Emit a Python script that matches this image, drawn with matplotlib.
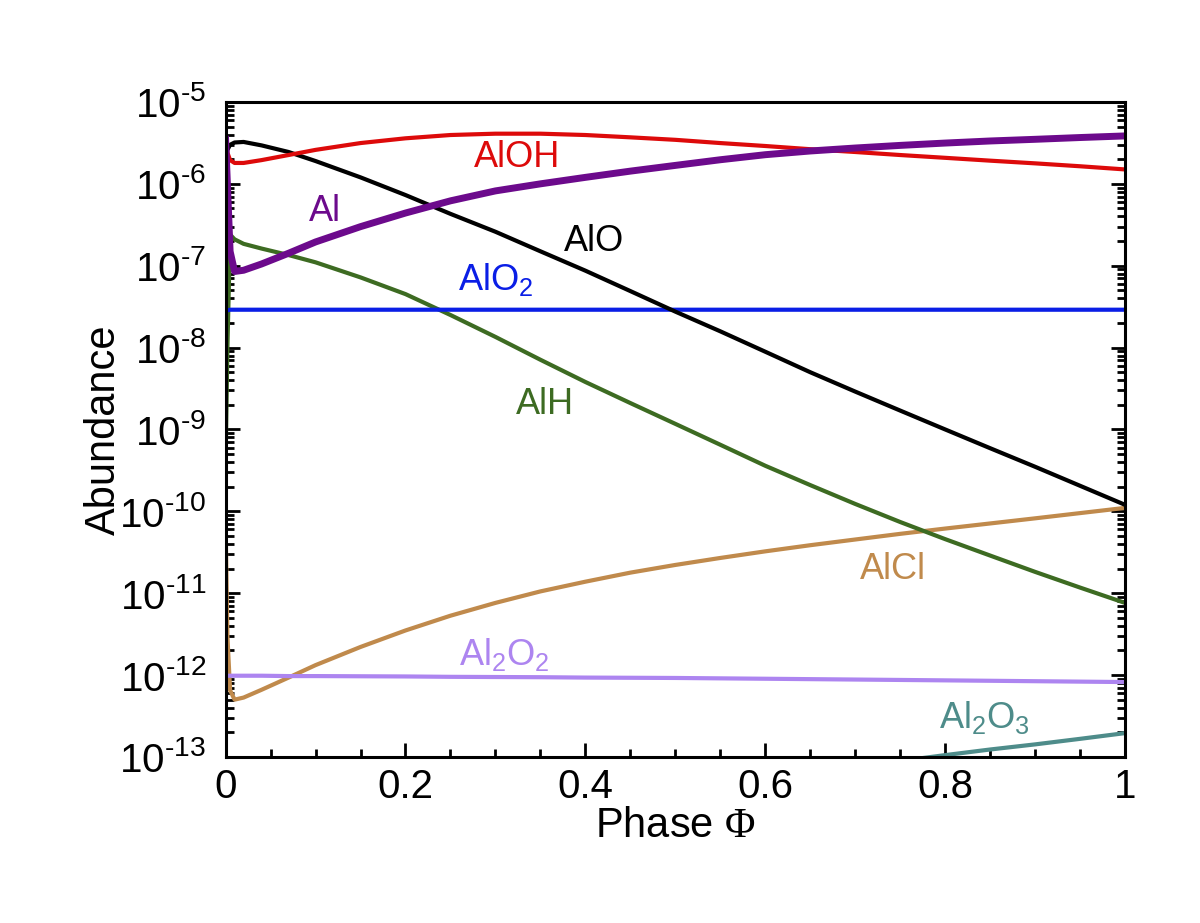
import matplotlib
matplotlib.use("Agg")
import matplotlib.pyplot as plt
from matplotlib.ticker import (LogLocator, FixedLocator, MultipleLocator,
                               FormatStrFormatter, FuncFormatter)
import numpy as np

plt.rcParams["font.family"] = ["Liberation Sans", "DejaVu Sans"]
plt.rcParams["mathtext.fontset"] = "custom"
plt.rcParams["mathtext.rm"] = "Liberation Sans"
plt.rcParams["mathtext.it"] = "Liberation Sans:italic"
plt.rcParams["mathtext.tt"] = "Liberation Serif"
plt.rcParams["axes.unicode_minus"] = False

# phase grid shared by most species
phase = [0, 0.002, 0.005, 0.01, 0.02, 0.04, 0.07, 0.1, 0.15, 0.2, 0.25, 0.3,
         0.35, 0.4, 0.45, 0.5, 0.55, 0.6, 0.65, 0.7, 0.75, 0.8, 0.85, 0.9,
         0.95, 1.0]

aloh = [3.0e-6, 2.4e-6, 1.95e-6, 1.8e-6, 1.8e-6, 1.95e-6, 2.25e-6, 2.6e-6,
        3.15e-6, 3.6e-6, 3.95e-6, 4.1e-6, 4.1e-6, 3.95e-6, 3.7e-6, 3.45e-6,
        3.15e-6, 2.9e-6, 2.65e-6, 2.45e-6, 2.25e-6, 2.08e-6, 1.92e-6, 1.78e-6,
        1.64e-6, 1.5e-6]
al = [3.5e-6, 1.0e-6, 1.5e-7, 8.5e-8, 8.8e-8, 1.05e-7, 1.42e-7, 1.95e-7,
      3.0e-7, 4.4e-7, 6.2e-7, 8.2e-7, 1.0e-6, 1.2e-6, 1.43e-6, 1.68e-6,
      1.97e-6, 2.27e-6, 2.52e-6, 2.74e-6, 2.95e-6, 3.15e-6, 3.34e-6, 3.5e-6,
      3.68e-6, 3.85e-6]
alo = [2.0e-6, 2.6e-6, 3.0e-6, 3.2e-6, 3.25e-6, 2.95e-6, 2.45e-6, 1.9e-6,
       1.2e-6, 7.3e-7, 4.3e-7, 2.6e-7, 1.5e-7, 8.7e-8, 4.9e-8, 2.75e-8,
       1.58e-8, 8.9e-9, 5.0e-9, 2.9e-9, 1.7e-9, 1.0e-9, 5.9e-10, 3.5e-10,
       2.05e-10, 1.2e-10]
alo2 = [2.85e-8, 2.85e-8, 2.9e-8, 2.9e-8, 2.9e-8, 2.9e-8, 2.9e-8, 2.9e-8,
        2.9e-8, 2.9e-8, 2.9e-8, 2.9e-8, 2.9e-8, 2.9e-8, 2.9e-8, 2.9e-8,
        2.9e-8, 2.9e-8, 2.9e-8, 2.9e-8, 2.9e-8, 2.9e-8, 2.9e-8, 2.9e-8,
        2.9e-8, 2.9e-8]
alh = [3.9e-10, 1.0e-8, 2.4e-7, 2.1e-7, 1.85e-7, 1.62e-7, 1.35e-7, 1.1e-7,
       7.2e-8, 4.5e-8, 2.5e-8, 1.35e-8, 7.1e-9, 3.8e-9, 2.1e-9, 1.17e-9,
       6.5e-10, 3.6e-10, 2.09e-10, 1.23e-10, 7.4e-11, 4.57e-11, 2.88e-11,
       1.82e-11, 1.17e-11, 7.6e-12]
alcl = [7.0e-11, 3.0e-12, 6.5e-13, 5.0e-13, 5.3e-13, 6.6e-13, 9.3e-13,
        1.32e-12, 2.2e-12, 3.5e-12, 5.3e-12, 7.6e-12, 1.05e-11, 1.38e-11,
        1.78e-11, 2.21e-11, 2.69e-11, 3.24e-11, 3.85e-11, 4.52e-11, 5.3e-11,
        6.15e-11, 7.1e-11, 8.2e-11, 9.5e-11, 1.1e-10]
al2o2 = [9.8e-13, 9.8e-13, 9.8e-13, 9.8e-13, 9.8e-13, 9.8e-13, 9.7e-13,
         9.7e-13, 9.65e-13, 9.6e-13, 9.5e-13, 9.45e-13, 9.4e-13, 9.3e-13,
         9.25e-13, 9.2e-13, 9.1e-13, 9.0e-13, 8.9e-13, 8.8e-13, 8.7e-13,
         8.6e-13, 8.5e-13, 8.4e-13, 8.3e-13, 8.2e-13]

# Al2O3 only climbs above the plot floor late in the phase
phase_al2o3 = [0.75, 0.8, 0.85, 0.9, 0.95, 1.0]
al2o3 = [8.9e-14, 1.05e-13, 1.23e-13, 1.42e-13, 1.66e-13, 1.95e-13]

fig = plt.figure(figsize=(12, 9.23), dpi=100)
ax = fig.add_axes([0.188, 0.18, 0.7495, 0.7095])

lw = 3.0
ax.plot(phase, alcl, color="#c08a4c", lw=lw)
ax.plot(phase, al2o2, color="#ad85f0", lw=lw)
ax.plot(phase_al2o3, al2o3, color="#4e8c8a", lw=lw)
ax.plot(phase, alh, color="#3d6b22", lw=lw)
ax.plot(phase, alo2, color="#0a1ee6", lw=lw)
ax.plot(phase, alo, color="black", lw=lw)
ax.plot(phase, aloh, color="#dd0a0a", lw=lw)
ax.plot(phase, al, color="#6c0a8c", lw=5.0)

fs = 26
ax.text(0.324, 2.1e-6, "AlOH", color="#dd0a0a", fontsize=fs, ha="center", va="center")
ax.text(0.11, 4.6e-7, "Al", color="#6c0a8c", fontsize=fs, ha="center", va="center")
ax.text(0.41, 1.95e-7, "AlO", color="black", fontsize=fs, ha="center", va="center")
ax.text(0.30, 6.8e-8, "AlO$_2$", color="#0a1ee6", fontsize=fs, ha="center", va="center")
ax.text(0.355, 2.0e-9, "AlH", color="#3d6b22", fontsize=fs, ha="center", va="center")
ax.text(0.742, 1.95e-11, "AlCl", color="#c08a4c", fontsize=fs, ha="center", va="center")
ax.text(0.31, 1.78e-12, "Al$_2$O$_2$", color="#ad85f0", fontsize=fs, ha="center", va="center")
ax.text(0.844, 3.0e-13, "Al$_2$O$_3$", color="#4e8c8a", fontsize=fs, ha="center", va="center")


def pow10(v, pos):
    n = int(round(np.log10(v)))
    return "$10^{\\text{-%d}}$" % (-n) if n < 0 else "$10^{%d}$" % n


ax.set_yscale("log")
ax.set_xlim(0, 1)
ax.set_ylim(1e-13, 1e-5)
ax.yaxis.set_major_locator(LogLocator(base=10, numticks=20))
ax.yaxis.set_minor_locator(LogLocator(base=10, subs=range(2, 10), numticks=20))
ax.yaxis.set_major_formatter(FuncFormatter(pow10))
ax.xaxis.set_major_locator(FixedLocator([0, 0.2, 0.4, 0.6, 0.8, 1.0]))
ax.xaxis.set_minor_locator(MultipleLocator(0.05))
ax.xaxis.set_major_formatter(FormatStrFormatter("%g"))

ax.tick_params(which="both", direction="in", left=True, right=True, top=False,
               bottom=True, width=2)
ax.tick_params(which="major", length=10, labelsize=29)
ax.tick_params(axis="y", which="major", pad=14)
ax.tick_params(axis="x", which="major", pad=8)
ax.tick_params(which="minor", length=6)
for s in ax.spines.values():
    s.set_linewidth(2.2)

ax.set_xlabel("Phase $\\mathtt{\\Phi}$", fontsize=30, labelpad=0)
ax.set_ylabel("Abundance", fontsize=30, labelpad=-3)

fig.savefig("out.png", dpi=100)
